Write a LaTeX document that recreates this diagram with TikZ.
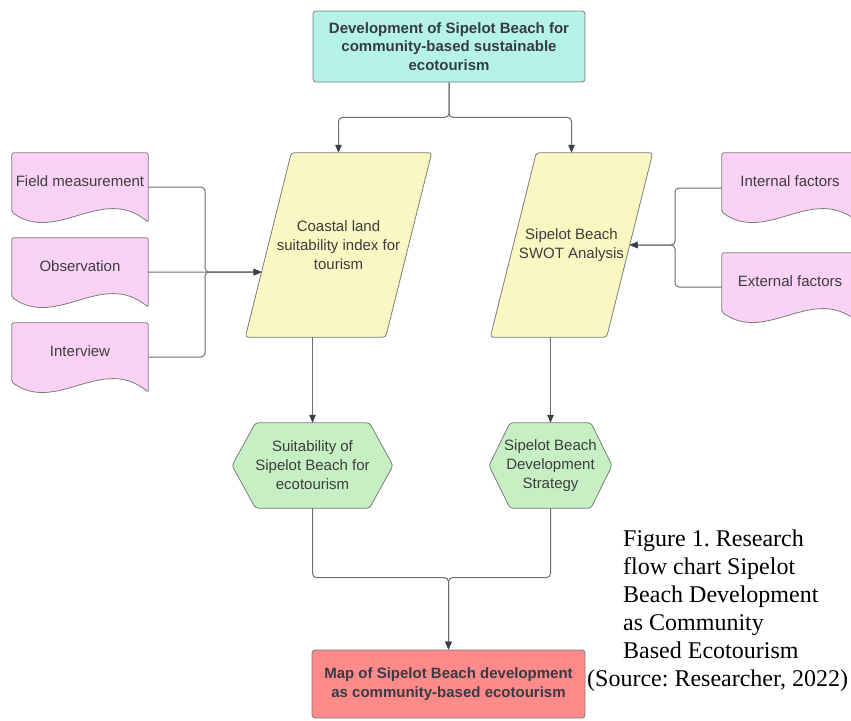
\documentclass[tikz,border=0pt]{standalone}
\usepackage{fontspec}
\setmainfont{Liberation Serif}
\setsansfont{Liberation Sans}
\usetikzlibrary{arrows.meta,calc,positioning,backgrounds}
\frenchspacing

\definecolor{goalteal}{HTML}{B4F2EA}
\definecolor{docpink}{HTML}{FAD2F5}
\definecolor{procyellow}{HTML}{FAF7C2}
\definecolor{resgreen}{HTML}{C6F0C4}
\definecolor{mapred}{HTML}{FF8A8A}
\definecolor{edgegrey}{HTML}{7C7C7C}
\definecolor{txtgrey}{HTML}{3D3D3D}
\definecolor{boldgrey}{HTML}{363B45}
\definecolor{linegrey}{HTML}{6E6E6E}
\definecolor{tipgrey}{HTML}{3A3F47}

% outlines drawn behind the named text nodes
\newcommand{\docshape}[1]{%
  \begin{scope}[on background layer]
    \draw[shapeline, fill=docpink, rounded corners=2pt]
      ($(#1.south west)+(0,3)$) -- (#1.north west) -- (#1.north east) -- ($(#1.south east)+(0,13)$)
      .. controls ($(#1.south east)+(-46,-25)$) and ($(#1.south west)+(45,35)$) .. ($(#1.south west)+(0,3)$) -- cycle;
  \end{scope}}
\newcommand{\slantbox}[2]{%
  \begin{scope}[on background layer]
    \draw[shapeline, fill=procyellow, rounded corners=3pt]
      ($(#1.south west)+(-#2,0)$) -- ($(#1.north west)+(#2,0)$) -- ($(#1.north east)+(#2,0)$) -- ($(#1.south east)+(-#2,0)$) -- cycle;
  \end{scope}
  \coordinate (#1-bl) at ($(#1.south west)+(-#2,0)$);
  \coordinate (#1-tl) at ($(#1.north west)+(#2,0)$);}
\newcommand{\hexbox}[3]{%
  \begin{scope}[on background layer]
    \draw[shapeline, fill=resgreen, rounded corners=3pt]
      ($(#1.center)+(-#2-#3,0)$) -- ($(#1.north)+(-#2,0)$) -- ($(#1.north)+(#2,0)$) -- ($(#1.center)+(#2+#3,0)$)
      -- ($(#1.south)+(#2,0)$) -- ($(#1.south)+(-#2,0)$) -- cycle;
  \end{scope}}

\begin{document}
\begin{tikzpicture}[x=1pt, y=-1pt,
    shapeline/.style={draw=edgegrey, line width=0.8pt},
    plaintext/.style={align=center, inner sep=0pt, text=txtgrey, font=\sffamily\fontsize{15}{19}\selectfont},
    boldbox/.style={draw=edgegrey, line width=0.8pt, rounded corners=3pt, align=center, inner sep=0pt,
        text=boldgrey, font=\sffamily\bfseries\fontsize{15}{18.7}\selectfont, minimum width=272pt},
    docnode/.style={plaintext, minimum width=136pt, minimum height=56pt},
    flow/.style={draw=linegrey, line width=1pt, rounded corners=4pt},
    arrowtip/.style={-{Triangle[length=8pt, width=6.5pt, color=tipgrey]}},
    captext/.style={inner sep=0pt, align=left, font=\fontsize{24}{27.8}\selectfont}
]
    \useasboundingbox (0,0) rectangle (851,720);

    \node[boldbox, fill=goalteal, minimum height=71pt] (goal) at (449,46.5) {Development of Sipelot Beach for\\community-based sustainable\\ecotourism};

    \node[plaintext, minimum width=140pt, minimum height=184pt] (coastal) at (338.5,245) {Coastal land\\suitability index for\\tourism};
    \node[plaintext, minimum width=116pt, minimum height=184pt] (swot) at (571.5,245) {Sipelot Beach\\SWOT Analysis};
    \slantbox{coastal}{23}
    \slantbox{swot}{23}

    \node[docnode] (field) at (80,181) {Field measurement};
    \node[docnode] (obs) at (80,266) {Observation};
    \node[docnode] (interview) at (80,351) {Interview};
    \node[docnode] (internal) at (790,181) {Internal factors};
    \node[docnode] (external) at (790,281) {External factors};
    \foreach \d in {field,obs,interview,internal,external} {\docshape{\d}}

    \node[plaintext, minimum height=85pt] (suit) at (312.5,465.5) {Suitability of\\Sipelot Beach for\\ecotourism};
    \node[plaintext, minimum height=85pt] (strat) at (550.5,465.5) {Sipelot Beach\\Development\\Strategy};
    \hexbox{suit}{57}{23.5}
    \hexbox{strat}{40.5}{21}

    \node[boldbox, fill=mapred, minimum height=68pt, minimum width=273pt] (map) at (448.5,684) {Map of Sipelot Beach development\\as community-based ecotourism};

    \node[captext, anchor=north west] (caption) at (623,530) {Figure 1. Research\\flow chart Sipelot\\Beach Development\\as Community\\Based Ecotourism};
    \node[captext, anchor=base west] (source) at (587,686) {(Source: Researcher, 2022)};

    % connectors
    \coordinate (tjoin) at ($(goal.south)+(0,35)$);
    \coordinate (ljoin) at (205,272);
    \coordinate (rjoin) at (675,245);
    \coordinate (bjoin) at ($(map.north)+(0,-72)$);
    \coordinate (coastal-in) at ($(coastal-bl)!0.353!(coastal-tl)$);

    \draw[flow, arrowtip] (goal.south) -- (tjoin) -| (coastal.north);
    \draw[flow, arrowtip] (goal.south) -- (tjoin) -| (swot.north);

    \draw[flow, arrowtip] ($(field.east)+(0,6)$) -| (ljoin) -- (coastal-in);
    \draw[flow, arrowtip] ($(obs.east)+(0,6)$) -- (coastal-in);
    \draw[flow, arrowtip] ($(interview.east)+(0,6)$) -| (ljoin) -- (coastal-in);

    \draw[flow, arrowtip] ($(internal.west)+(0,7)$) -| (rjoin) -- (swot.east);
    \draw[flow, arrowtip] ($(external.west)+(0,6)$) -| (rjoin) -- (swot.east);

    \draw[flow, arrowtip] (suit.north |- coastal.south) -- (suit.north);
    \draw[flow, arrowtip] (strat.north |- swot.south) -- (strat.north);

    \draw[flow, arrowtip] (suit.south) |- (bjoin) -- (map.north);
    \draw[flow, arrowtip] (strat.south) |- (bjoin) -- (map.north);
\end{tikzpicture}
\end{document}
